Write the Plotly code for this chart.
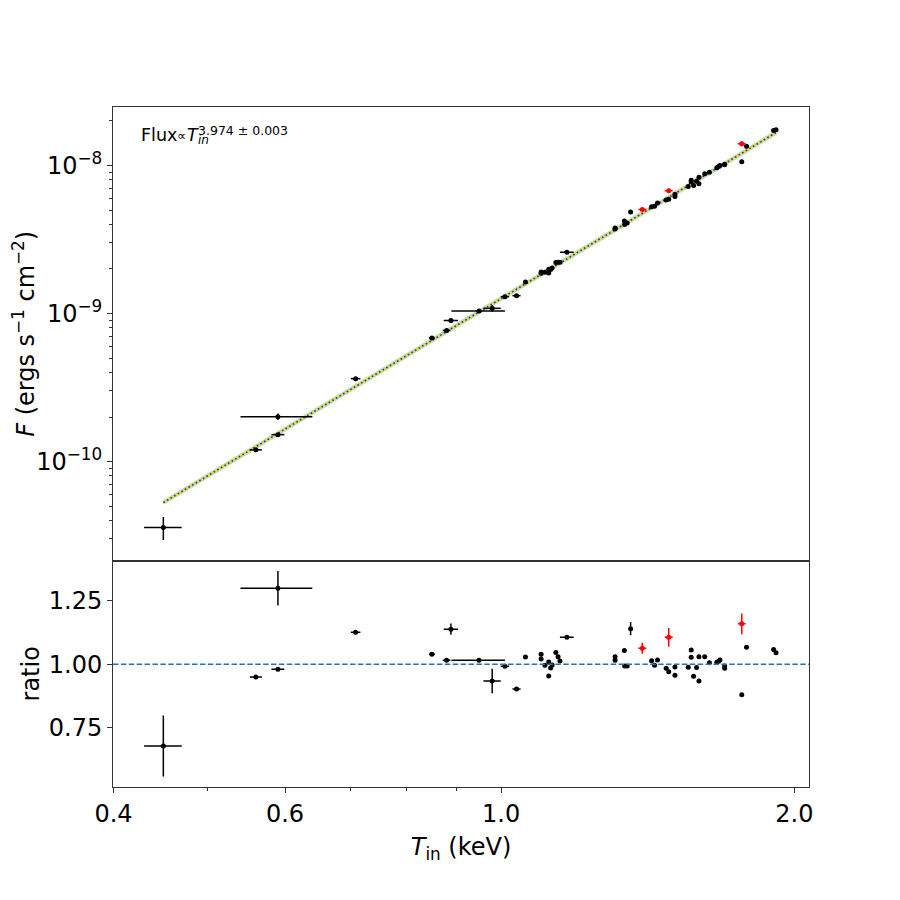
import plotly.graph_objects as go
import math

# ---------------- data ----------------
T_keV = [0.450, 0.590, 0.560, 0.590, 0.709, 0.849, 0.888, 0.879, 0.949, 0.979,
         1.009, 1.037, 1.059, 1.099, 1.099, 1.109, 1.119, 1.119, 1.124, 1.128,
         1.138, 1.144, 1.149, 1.168, 1.309, 1.309, 1.338, 1.339, 1.347, 1.358,
         1.396, 1.427, 1.437, 1.447, 1.486, 1.477, 1.486, 1.508, 1.508, 1.556,
         1.567, 1.567, 1.576, 1.587, 1.596, 1.596, 1.618, 1.636, 1.665, 1.672,
         1.677, 1.696, 1.696, 1.766, 1.766, 1.786, 1.904, 1.915]
T_err = [0.020, 0.050, 0.008, 0.009, 0.008, 0.006, 0.015, 0.008, 0.060, 0.020,
         0.010, 0.010, 0.005, 0.004, 0.004, 0.004, 0.004, 0.004, 0.004, 0.004,
         0.004, 0.004, 0.004, 0.019, 0.004, 0.004, 0.004, 0.004, 0.004, 0.004,
         0.013, 0.004, 0.004, 0.004, 0.014, 0.004, 0.004, 0.004, 0.004, 0.004,
         0.004, 0.004, 0.004, 0.004, 0.004, 0.004, 0.004, 0.004, 0.004, 0.004,
         0.004, 0.004, 0.004, 0.016, 0.004, 0.004, 0.004, 0.004]
flux = [3.59e-11, 2.01e-10, 1.20e-10, 1.52e-10, 3.63e-10, 6.83e-10, 8.97e-10, 7.69e-10, 1.041e-9, 1.084e-9,
        1.30e-9, 1.32e-9, 1.63e-9, 1.91e-9, 1.87e-9, 1.90e-9, 1.88e-9, 1.99e-9, 1.98e-9, 2.03e-9,
        2.21e-9, 2.22e-9, 2.22e-9, 2.59e-9, 3.78e-9, 3.73e-9, 4.22e-9, 3.99e-9, 4.09e-9, 4.85e-9,
        5.05e-9, 5.26e-9, 5.31e-9, 5.58e-9, 6.74e-9, 5.85e-9, 5.92e-9, 6.38e-9, 6.17e-9, 7.22e-9,
        7.95e-9, 7.73e-9, 7.33e-9, 7.81e-9, 7.54e-9, 8.32e-9, 8.78e-9, 8.99e-9, 9.65e-9, 9.84e-9,
        1.00e-8, 1.02e-8, 1.01e-8, 1.40e-8, 1.06e-8, 1.35e-8, 1.72e-8, 1.74e-8]
flux_err = [0.64e-11, 1.05e-11, 0, 0, 0, 0, 1.7e-11, 0, 0, 5.6e-11,
            0, 0, 0, 0, 0, 0, 0, 0, 0, 0,
            0, 0, 0, 0, 0, 0, 0, 0, 0, 1.1e-10,
            1.05e-10, 0, 0, 0, 2.25e-10, 0, 0, 0, 0, 0,
            0, 0, 0, 0, 0, 0, 0, 0, 0, 0,
            0, 0, 0, 4.95e-10, 0, 0, 0, 0]
ratio = [0.678, 1.299, 0.950, 0.980, 1.126, 1.039, 1.138, 1.016, 1.016, 0.934,
         0.992, 0.903, 1.029, 1.039, 1.021, 0.996, 0.954, 1.009, 0.985, 0.997,
         1.046, 1.030, 1.013, 1.106, 1.030, 1.016, 1.054, 0.993, 0.993, 1.140,
         1.063, 1.014, 0.996, 1.017, 1.106, 0.984, 0.971, 0.989, 0.957, 0.988,
         1.056, 1.028, 0.953, 0.987, 0.934, 1.030, 1.030, 1.006, 1.008, 1.012,
         1.017, 0.993, 0.984, 1.159, 0.880, 1.067, 1.058, 1.045]
ratio_err = [0.120, 0.068, 0.005, 0.005, 0.006, 0.005, 0.022, 0.005, 0.005, 0.048,
             0.005, 0.005, 0.004, 0.004, 0.004, 0.004, 0.004, 0.004, 0.004, 0.004,
             0.004, 0.004, 0.004, 0.006, 0.004, 0.004, 0.004, 0.004, 0.004, 0.026,
             0.022, 0.004, 0.004, 0.004, 0.037, 0.004, 0.004, 0.004, 0.004, 0.004,
             0.004, 0.004, 0.004, 0.004, 0.004, 0.004, 0.004, 0.004, 0.004, 0.004,
             0.004, 0.004, 0.004, 0.041, 0.004, 0.004, 0.004, 0.004]
highlighted = [0, 0, 0, 0, 0, 0, 0, 0, 0, 0,
               0, 0, 0, 0, 0, 0, 0, 0, 0, 0,
               0, 0, 0, 0, 0, 0, 0, 0, 0, 0,
               1, 0, 0, 0, 1, 0, 0, 0, 0, 0,
               0, 0, 0, 0, 0, 0, 0, 0, 0, 0,
               0, 0, 0, 1, 0, 0, 0, 0]

fit_index = 3.974
fit_index_err = 0.003
fit_norm_1keV = 1.262e-9
fit_T_ends = [0.45, 1.915]

x_tick_vals = [0.4, 0.6, 1.0, 2.0]
x_tick_text = ["0.4", "0.6", "1.0", "2.0"]
x_minor_vals = [0.5, 0.7, 0.8, 0.9]
flux_tick_vals = [1e-10, 1e-9, 1e-8]
flux_tick_text = ["10<sup>\u221210</sup>", "10<sup>\u22129</sup>", "10<sup>\u22128</sup>"]
flux_minor_vals = [m * 10.0 ** e for e in (-11, -10, -9, -8) for m in range(2, 10)]
ratio_tick_vals = [0.75, 1.0, 1.25]
ratio_tick_text = ["0.75", "1.00", "1.25"]

# ---------------- figure ----------------
FONT = "DejaVu Sans"
FS = 24
OFF = 8.0  # page offset of the figure inside the browser window
# plot-area edges in window pixels
L, R, T, B = 112.7, 809.3, 107.3, 787.0
W, H = R - L, B - T


def px_x(p):
    return (p - L) / W


def px_y(p):
    return (B - p) / H


fig = go.Figure()

fit_F = [fit_norm_1keV * t ** fit_index for t in fit_T_ends]
fig.add_trace(go.Scatter(x=fit_T_ends, y=fit_F, mode="lines", xaxis="x", yaxis="y",
                         line=dict(color="rgba(110,180,235,0.5)", width=4.5), hoverinfo="skip"))
fig.add_trace(go.Scatter(x=fit_T_ends, y=fit_F, mode="lines", xaxis="x", yaxis="y",
                         line=dict(color="#e6df22", width=2.6), hoverinfo="skip"))
fig.add_trace(go.Scatter(x=fit_T_ends, y=fit_F, mode="lines", xaxis="x", yaxis="y",
                         line=dict(color="#1030e0", width=1.6, dash="1.6px,2.6px"), hoverinfo="skip"))

for flag, col in ((0, "black"), (1, "red")):
    idx = [i for i, h in enumerate(highlighted) if h == flag]
    xs = [T_keV[i] for i in idx]
    xe = [T_err[i] for i in idx]
    common = dict(mode="markers", marker=dict(color=col, size=5),
                  error_x=dict(type="data", array=xe, color=col, thickness=1.5, width=0))
    fig.add_trace(go.Scatter(x=xs, y=[flux[i] for i in idx], xaxis="x", yaxis="y",
                             error_y=dict(type="data", array=[flux_err[i] for i in idx],
                                          color=col, thickness=1.5, width=0), **common))
    fig.add_trace(go.Scatter(x=xs, y=[ratio[i] for i in idx], xaxis="x2", yaxis="y2",
                             error_y=dict(type="data", array=[ratio_err[i] for i in idx],
                                          color=col, thickness=1.5, width=0), **common))

xr = [math.log10(0.4) - 0.5 / 975, math.log10(0.4) + (R - 113.2) / 975]
split = (B - 560.7) / H

axis_common = dict(showline=True, linecolor="#333", linewidth=1, mirror=True, automargin=False,
                   showgrid=False, zeroline=False, tickfont=dict(family=FONT, size=FS, color="black"),
                   tickcolor="#333", tickwidth=1)

fig.update_layout(
    width=900, height=900, showlegend=False,
    paper_bgcolor="white", plot_bgcolor="white",
    margin=dict(l=L - OFF, r=900 - (R - OFF), t=T - OFF, b=900 - (B - OFF), autoexpand=False),
    font=dict(family=FONT, color="black"),
    xaxis=dict(type="log", range=xr, domain=[0, 1], anchor="y", matches="x2",
               showticklabels=False, ticks="", **axis_common),
    yaxis=dict(type="log", range=[-10.669, -7.605], domain=[split, 1], anchor="x",
               tickmode="array", tickvals=flux_tick_vals, ticktext=flux_tick_text,
               ticks="outside", ticklen=5,
               minor=dict(tickmode="array", tickvals=flux_minor_vals, ticks="outside",
                          ticklen=3, tickcolor="#333", tickwidth=0.8),
               title=dict(text="<i>F</i> (ergs s<sup>\u22121</sup> cm<sup>\u22122</sup>)",
                          font=dict(family=FONT, size=FS), standoff=11),
               **axis_common),
    xaxis2=dict(type="log", range=xr, domain=[0, 1], anchor="y2",
                tickmode="array", tickvals=x_tick_vals, ticktext=x_tick_text,
                ticks="outside", ticklen=5,
                minor=dict(tickmode="array", tickvals=x_minor_vals, ticks="outside",
                           ticklen=3, tickcolor="#333", tickwidth=0.8),
                title=dict(text="<i>T</i><sub>in</sub> (keV)", font=dict(family=FONT, size=FS),
                           standoff=11),
                **axis_common),
    yaxis2=dict(range=[0.517, 1.408], domain=[0, split], anchor="x2",
                tickmode="array", tickvals=ratio_tick_vals, ticktext=ratio_tick_text,
                ticks="outside", ticklen=5,
                title=dict(text="ratio", font=dict(family=FONT, size=FS), standoff=2),
                **axis_common),
)

fig.add_shape(type="line", xref="x2 domain", yref="y2", x0=0, x1=1, y0=1, y1=1,
              line=dict(color="#1f77b4", width=1.5, dash="5.5px,2.4px"), layer="above")


def label(px, py, text, size):
    fig.add_annotation(xref="paper", yref="paper", x=px_x(px), y=px_y(py), xanchor="left",
                       yanchor="middle", showarrow=False, borderpad=0, borderwidth=0,
                       text=text, font=dict(family=FONT, size=size, color="black"))


label(141, 135.5, "Flux", 17.5)
label(177, 136, "\u221d", 13)
label(187, 135.5, "<i>T</i>", 17.5)
label(198, 131, f"{fit_index:.3f} \u00b1 {fit_index_err:.3f}", 12.5)
label(197.5, 140.5, "<i>in</i>", 12)

fig.write_html("out.html")
